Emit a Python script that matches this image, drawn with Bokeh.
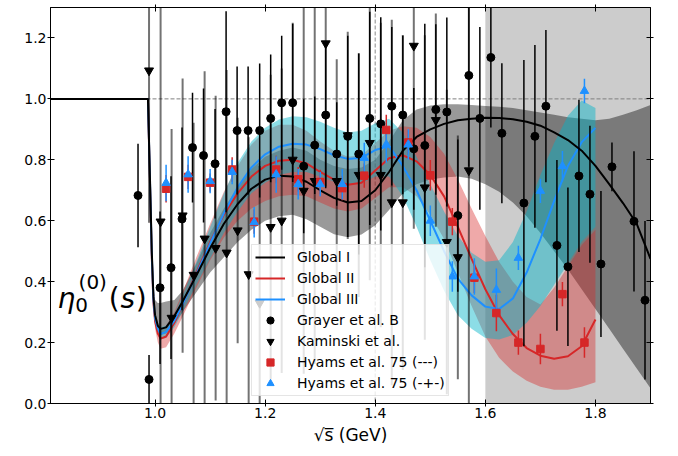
import numpy as np
from bokeh.plotting import figure
from bokeh.models import (Range1d, Span, BoxAnnotation, Legend, LegendItem, Label,
                          LinearAxis, FixedTicker, PrintfTickFormatter, CustomLabelingPolicy)
from bokeh.embed import file_html
from bokeh.resources import INLINE

# ---------------- data ----------------
x_ticks = [1.0, 1.2, 1.4, 1.6, 1.8]
y_ticks = [0.0, 0.2, 0.4, 0.6, 0.8, 1.0, 1.2]
shade_start = 1.6
ref_line_y = 1.0
ref_line_x = 1.4

x_global = [0.81, 0.987, 0.991, 0.994, 0.997, 1.0, 1.005, 1.01, 1.02, 1.035,
            1.05, 1.075, 1.1, 1.125, 1.15, 1.175, 1.2, 1.225, 1.25, 1.275,
            1.3, 1.325, 1.35, 1.375, 1.4, 1.425, 1.45, 1.475, 1.5, 1.525,
            1.55, 1.575, 1.6, 1.625, 1.65, 1.675, 1.7, 1.725, 1.75, 1.775,
            1.8, 1.825, 1.85, 1.875, 1.9]
global1 = [1.0, 1.0, 0.72, 0.50, 0.35, 0.29, 0.255, 0.245, 0.25, 0.287,
           0.335, 0.42, 0.51, 0.59, 0.655, 0.705, 0.735, 0.748, 0.745, 0.728,
           0.70, 0.675, 0.66, 0.665, 0.70, 0.76, 0.83, 0.875, 0.90, 0.918,
           0.93, 0.935, 0.938, 0.937, 0.933, 0.925, 0.912, 0.89, 0.865, 0.83,
           0.78, 0.72, 0.658, 0.59, 0.475]
global1_lo = [1.0, 1.0, 0.69, 0.47, 0.33, 0.27, 0.235, 0.225, 0.23, 0.26,
              0.30, 0.365, 0.43, 0.48, 0.53, 0.57, 0.60, 0.615, 0.62, 0.605,
              0.58, 0.556, 0.546, 0.555, 0.585, 0.635, 0.69, 0.72, 0.735, 0.742,
              0.745, 0.738, 0.72, 0.695, 0.66, 0.615, 0.56, 0.50, 0.44, 0.375,
              0.31, 0.245, 0.18, 0.115, 0.05]
global1_hi = [1.0, 1.0, 0.75, 0.55, 0.40, 0.34, 0.33, 0.33, 0.335, 0.34,
              0.37, 0.46, 0.56, 0.64, 0.71, 0.77, 0.81, 0.83, 0.84, 0.83,
              0.80, 0.78, 0.77, 0.775, 0.80, 0.86, 0.93, 0.965, 0.978, 0.982,
              0.982, 0.98, 0.977, 0.974, 0.97, 0.963, 0.955, 0.948, 0.94, 0.935,
              0.93, 0.935, 0.948, 0.963, 0.98]

x_global_23 = [0.81, 0.987, 0.991, 0.994, 0.997, 1.0, 1.005, 1.01, 1.02, 1.035,
               1.05, 1.075, 1.1, 1.125, 1.15, 1.175, 1.2, 1.225, 1.25, 1.275,
               1.3, 1.325, 1.35, 1.375, 1.4, 1.425, 1.45, 1.475, 1.5, 1.525,
               1.55, 1.575, 1.6, 1.625, 1.65, 1.675, 1.7, 1.725, 1.75, 1.775,
               1.8]
global2 = [1.0, 1.0, 0.70, 0.48, 0.33, 0.27, 0.23, 0.213, 0.22, 0.265,
           0.325, 0.43, 0.53, 0.62, 0.69, 0.745, 0.78, 0.797, 0.80, 0.788,
           0.76, 0.735, 0.718, 0.725, 0.765, 0.805, 0.815, 0.795, 0.75, 0.68,
           0.58, 0.475, 0.375, 0.29, 0.228, 0.182, 0.157, 0.147, 0.155, 0.188,
           0.276]
global2_lo = [1.0, 1.0, 0.67, 0.45, 0.30, 0.245, 0.20, 0.18, 0.185, 0.23,
              0.285, 0.38, 0.47, 0.545, 0.60, 0.64, 0.665, 0.68, 0.685, 0.68,
              0.66, 0.64, 0.63, 0.64, 0.675, 0.71, 0.71, 0.68, 0.62, 0.54,
              0.43, 0.32, 0.22, 0.15, 0.105, 0.075, 0.055, 0.045, 0.045, 0.055,
              0.07]
global2_hi = [1.0, 1.0, 0.73, 0.51, 0.36, 0.295, 0.26, 0.245, 0.255, 0.30,
              0.365, 0.48, 0.59, 0.695, 0.78, 0.85, 0.895, 0.915, 0.915, 0.895,
              0.86, 0.83, 0.81, 0.815, 0.855, 0.895, 0.91, 0.905, 0.875, 0.82,
              0.735, 0.64, 0.55, 0.465, 0.40, 0.35, 0.325, 0.38, 0.45, 0.52,
              0.57]
global3 = [1.0, 1.0, 0.71, 0.49, 0.34, 0.28, 0.245, 0.228, 0.235, 0.272,
           0.325, 0.425, 0.525, 0.625, 0.71, 0.775, 0.818, 0.843, 0.853, 0.85,
           0.835, 0.815, 0.803, 0.807, 0.832, 0.845, 0.78, 0.70, 0.60, 0.50,
           0.41, 0.355, 0.318, 0.31, 0.345, 0.43, 0.54, 0.665, 0.78, 0.858,
           0.905]
global3_lo = [1.0, 1.0, 0.69, 0.47, 0.32, 0.26, 0.225, 0.21, 0.215, 0.25,
              0.30, 0.39, 0.475, 0.56, 0.63, 0.69, 0.725, 0.75, 0.76, 0.76,
              0.745, 0.728, 0.718, 0.722, 0.745, 0.745, 0.68, 0.58, 0.47, 0.37,
              0.29, 0.245, 0.215, 0.21, 0.225, 0.265, 0.32, 0.39, 0.46, 0.53,
              0.58]
global3_hi = [1.0, 1.0, 0.73, 0.51, 0.36, 0.30, 0.265, 0.25, 0.255, 0.295,
              0.355, 0.465, 0.58, 0.69, 0.79, 0.86, 0.905, 0.932, 0.943, 0.94,
              0.925, 0.905, 0.89, 0.895, 0.92, 0.935, 0.89, 0.81, 0.72, 0.63,
              0.55, 0.495, 0.465, 0.47, 0.53, 0.63, 0.75, 0.855, 0.945, 0.995,
              0.97]

grayer_x = [0.969, 0.989, 1.009, 1.029, 1.049, 1.068, 1.088, 1.109, 1.129, 1.149,
            1.169, 1.19, 1.21, 1.23, 1.25, 1.27, 1.29, 1.31, 1.33, 1.35,
            1.37, 1.39, 1.41, 1.43, 1.45, 1.47, 1.49, 1.51, 1.53, 1.55,
            1.57, 1.59, 1.61, 1.63, 1.67, 1.69, 1.71, 1.73, 1.75, 1.77,
            1.79, 1.81, 1.83, 1.87, 1.89]
grayer_y = [0.683, 0.079, 0.380, 0.446, 0.606, 0.840, 0.814, 0.787, 0.958, 0.896,
            0.896, 0.896, 0.936, 0.987, 0.987, 0.779, 0.848, 0.947, 0.819, 0.877,
            0.819, 0.936, 0.918, 0.976, 0.947, 0.836, 0.847, 0.965, 0.957, 0.617,
            1.077, 0.936, 1.136, 0.887, 0.658, 0.877, 0.976, 0.519, 0.449, 0.747,
            0.687, 0.458, 0.777, 0.598, 0.339]
grayer_err = [0.17, 0.08, 0.25, 0.3, 0.3, 0.18, 0.22, 0.18, 0.33, 0.21,
              0.21, 0.22, 0.21, 0.22, 0.26, 0.22, 0.16, 0.24, 0.17, 0.33,
              0.33, 0.35, 0.35, 0.26, 0.26, 0.2, 0.4, 0.28, 0.31, 0.25,
              0.3, 0.3, 0.23, 0.23, 0.47, 0.3, 0.25, 0.28, 0.26, 0.25,
              0.225, 0.24, 0.08, 0.23, 0.26]

kaminski_x = [0.989, 1.01, 1.03, 1.05, 1.07, 1.09, 1.11, 1.13, 1.15, 1.17,
              1.19, 1.21, 1.23, 1.25, 1.27, 1.29, 1.31, 1.33, 1.35, 1.37,
              1.39, 1.41, 1.43, 1.45, 1.47, 1.49, 1.51, 1.53, 1.55, 1.57]
kaminski_y = [1.093, 0.597, 0.281, 0.617, 0.422, 0.541, 0.51, 0.495, 0.568, 0.424,
              0.33, 0.579, 0.60, 0.80, 0.698, 0.73, 1.182, 0.73, 0.88, 0.75,
              0.855, 0.75, 0.66, 0.66, 1.174, 0.709, 0.93, 0.53, 0.48, 0.765]
kaminski_err = [0.5, 0.75, 0.62, 0.45, 0.5, 0.55, 0.5, 0.6, 0.37, 0.45,
                0.45, 0.5, 0.5, 0.45, 0.6, 0.6, 0.47, 0.4, 0.34, 0.4,
                0.45, 0.5, 0.6, 0.55, 0.6, 0.5, 0.35, 0.5, 0.4, 0.8]

hyams_x = [1.02, 1.06, 1.10, 1.14, 1.18, 1.22, 1.26, 1.30, 1.34, 1.38,
           1.42, 1.46, 1.50, 1.54, 1.58, 1.62, 1.66, 1.70, 1.74, 1.78]
hyams_mmm_y = [0.705, 0.744, 0.725, 0.768, 0.597, 0.768, 0.736, 0.727, 0.707, 0.748,
               0.898, 0.857, 0.749, 0.597, 0.413, 0.297, 0.20, 0.179, 0.359, 0.20]
hyams_mmm_err = [0.045, 0.04, 0.03, 0.04, 0.04, 0.045, 0.04, 0.04, 0.04, 0.04,
                 0.05, 0.04, 0.05, 0.045, 0.05, 0.06, 0.04, 0.05, 0.04, 0.05]
hyams_mpm_y = [0.724, 0.752, 0.73, 0.76, 0.595, 0.752, 0.72, 0.72, 0.72, 0.806,
               0.85, 0.85, 0.60, 0.417, 0.417, 0.373, 0.478, 0.698, 0.779, 1.026]
hyams_mpm_err = [0.06, 0.06, 0.04, 0.04, 0.05, 0.06, 0.05, 0.04, 0.05, 0.05,
                 0.06, 0.05, 0.05, 0.05, 0.06, 0.07, 0.04, 0.04, 0.05, 0.04]

# ---------------- styles ----------------
FONT = "DejaVu Sans"
C_RED = "#d62728"
C_BLUE = "#1e90ff"
C_CYAN = "#00b4c8"

p = figure(width=664, height=452, x_range=Range1d(0.81, 1.9), y_range=Range1d(0, 1.3),
           output_backend="svg", toolbar_location=None,
           min_border_left=50, min_border_right=14, min_border_top=4, min_border_bottom=49)
p.grid.visible = False
p.outline_line_color = "black"
p.outline_line_width = 1
p.background_fill_color = "white"
p.border_fill_color = "white"

# axes
xa = p.below[0]
ya = p.left[0]
xa.ticker = FixedTicker(ticks=x_ticks)
ya.ticker = FixedTicker(ticks=y_ticks)
xa.formatter = PrintfTickFormatter(format="%.1f")
ya.formatter = PrintfTickFormatter(format="%.1f")
for ax in (xa, ya):
    ax.major_tick_in = 4
    ax.major_tick_out = 3
    ax.minor_tick_line_color = None
    ax.axis_line_color = "black"
    ax.major_tick_line_color = "black"
    ax.major_label_text_font = FONT
    ax.major_label_text_font_size = "14px"
    ax.major_label_text_color = "black"
    ax.major_label_standoff = 1
xa.axis_label = "\u221As\u0305 (GeV)"
xa.axis_label_text_font = FONT
xa.axis_label_text_font_size = "17px"
xa.axis_label_text_font_style = "normal"
xa.axis_label_text_color = "black"
xa.axis_label_standoff = 4

top_ax = LinearAxis(ticker=FixedTicker(ticks=x_ticks), major_label_text_font_size="1px",
                    major_label_policy=CustomLabelingPolicy(code="return new Set()"),
                    major_tick_in=4, major_tick_out=3, minor_tick_line_color=None,
                    axis_line_color="black", major_label_standoff=0)
right_ax = LinearAxis(ticker=FixedTicker(ticks=y_ticks), major_label_text_font_size="1px",
                      major_label_policy=CustomLabelingPolicy(code="return new Set()"),
                      major_tick_in=4, major_tick_out=3, minor_tick_line_color=None,
                      axis_line_color="black", major_label_standoff=0)
p.add_layout(top_ax, "above")
p.add_layout(right_ax, "right")

# shaded region and reference lines
p.add_layout(BoxAnnotation(left=shade_start, fill_color="#cccccc", fill_alpha=1.0,
                           line_alpha=0, level="underlay"))
p.add_layout(Span(location=ref_line_y, dimension="width", line_color="#7f7f7f",
                  line_dash="4 2", line_width=1, level="underlay"))
p.add_layout(Span(location=ref_line_x, dimension="height", line_color="#b0b0b0",
                  line_dash="4 2", line_width=1.5, level="underlay"))

# bands
p.varea(x=x_global, y1=global1_lo, y2=global1_hi, fill_color="black", fill_alpha=0.4)
p.varea(x=x_global_23, y1=global2_lo, y2=global2_hi, fill_color=C_RED, fill_alpha=0.4)
p.varea(x=x_global_23, y1=global3_lo, y2=global3_hi, fill_color=C_CYAN, fill_alpha=0.45)

# curves
l2 = p.line(x_global_23, global2, line_color=C_RED, line_width=2)
l3 = p.line(x_global_23, global3, line_color=C_BLUE, line_width=2)
l1 = p.line(x_global, global1, line_color="black", line_width=2)

# error bars
gx = np.array(grayer_x); gy = np.array(grayer_y); ge = np.array(grayer_err)
kx = np.array(kaminski_x); ky = np.array(kaminski_y); ke = np.array(kaminski_err)
hx = np.array(hyams_x)
hr = np.array(hyams_mmm_y); hre = np.array(hyams_mmm_err)
hb = np.array(hyams_mpm_y); hbe = np.array(hyams_mpm_err)

p.segment(x0=kx, y0=ky - ke, x1=kx, y1=ky + ke, line_color="black", line_alpha=0.55, line_width=2)
p.segment(x0=gx, y0=gy - ge, x1=gx, y1=gy + ge, line_color="black", line_width=1.5)
p.segment(x0=hx, y0=hr - hre, x1=hx, y1=hr + hre, line_color=C_RED, line_width=1.5)
p.segment(x0=hx, y0=hb - hbe, x1=hx, y1=hb + hbe, line_color=C_BLUE, line_width=1.5)

# markers
m_g = p.scatter(gx, gy, marker="circle", size=8, fill_color="black", line_color="black")
m_k = p.scatter(kx, ky, marker="inverted_triangle", size=9, fill_color="black", line_color="black")
m_r = p.scatter(hx, hr, marker="square", size=7.5, fill_color=C_RED, line_color=C_RED)
m_b = p.scatter(hx, hb, marker="triangle", size=8.5, fill_color=C_BLUE, line_color=C_BLUE)

# legend
legend = Legend(items=[
    LegendItem(label="Global I", renderers=[l1]),
    LegendItem(label="Global II", renderers=[l2]),
    LegendItem(label="Global III", renderers=[l3]),
    LegendItem(label="Grayer et al. B", renderers=[m_g]),
    LegendItem(label="Kaminski et al.", renderers=[m_k]),
    LegendItem(label="Hyams et al. 75 (---)", renderers=[m_r]),
    LegendItem(label="Hyams et al. 75 (-+-)", renderers=[m_b]),
], location=(201, 7), margin=0, padding=3, spacing=3, glyph_width=30, glyph_height=18,
    label_height=18, label_standoff=12, label_text_font=FONT, label_text_font_size="14px",
    label_text_color="black", background_fill_color="white", background_fill_alpha=0.8,
    border_line_color="#cccccc", border_line_width=1)
p.add_layout(legend)

# y label drawn inside the frame
for txt, xx, yy, size, style in [("\u03b7", 0.8225, 0.346, "28px", "italic"),
                                 ("(0)", 0.861, 0.398, "20px", "normal"),
                                 ("0", 0.855, 0.325, "20px", "normal"),
                                 ("(", 0.916, 0.346, "28px", "normal"),
                                 ("s", 0.937, 0.346, "28px", "italic"),
                                 (")", 0.965, 0.346, "28px", "normal")]:
    p.add_layout(Label(x=xx, y=yy, text=txt, text_font=FONT, text_font_size=size,
                       text_font_style=style, text_baseline="alphabetic", text_align="left",
                       text_color="black"))

open("out.html", "w").write(file_html(p, INLINE))
